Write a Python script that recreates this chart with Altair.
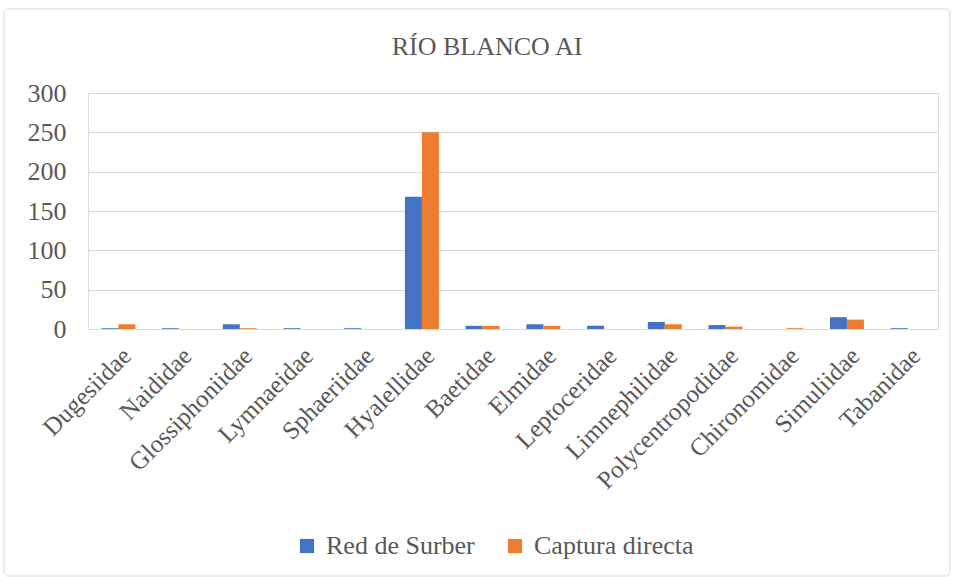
import altair as alt
import pandas as pd

families = ["Dugesiidae", "Naididae", "Glossiphoniidae", "Lymnaeidae", "Sphaeriidae",
            "Hyalellidae", "Baetidae", "Elmidae", "Leptoceridae", "Limnephilidae",
            "Polycentropodidae", "Chironomidae", "Simuliidae", "Tabanidae"]
red_surber = [1, 1, 6, 1, 1, 168, 4, 6, 4, 9, 5, 0, 15, 1]
captura = [6, 0, 1, 0, 0, 250, 4, 4, 0, 6, 3, 1, 12, 0]
series = ["Red de Surber", "Captura directa"]
title_text = "RÍO BLANCO AI"

rows = []
for f, a, b in zip(families, red_surber, captura):
    rows.append({"familia": f, "serie": series[0], "valor": a})
    rows.append({"familia": f, "serie": series[1], "valor": b})
df = pd.DataFrame(rows)

FONT = "Liberation Serif"
TXT = "#595959"
W, H = 850, 236

bars = alt.Chart(df).mark_bar().encode(
    x=alt.X("familia:N", sort=families, title=None,
            scale=alt.Scale(paddingInner=0.44, paddingOuter=0.22),
            axis=alt.Axis(labelAngle=-45, labelAlign="right", labelBaseline="top",
                          labelFontSize=25, labelFont=FONT, labelColor=TXT,
                          domainColor="#d9d9d9", ticks=False, labelPadding=14,
                          labelOverlap=False, labelLimit=400)),
    xOffset=alt.XOffset("serie:N", sort=series),
    y=alt.Y("valor:Q", title=None,
            scale=alt.Scale(domain=[0, 300]),
            axis=alt.Axis(values=[0, 50, 100, 150, 200, 250, 300], labelFontSize=26,
                          labelFont=FONT, labelColor=TXT, domain=False, ticks=False,
                          gridColor="#d9d9d9", labelPadding=22)),
    color=alt.Color("serie:N", sort=series,
                    scale=alt.Scale(domain=series, range=["#4472C4", "#ED7D31"]),
                    legend=alt.Legend(title=None, orient="none", direction="horizontal",
                                      legendX=206, legendY=440, symbolType="square",
                                      symbolSize=200, labelFontSize=26, labelFont=FONT,
                                      labelColor=TXT, columnPadding=27, labelOffset=6,
                                      symbolStrokeWidth=0, labelLimit=400)),
)

frame = alt.Chart(pd.DataFrame({"a": [0]})).mark_rect(
    fill=None, stroke="#d9d9d9", strokeWidth=1, cornerRadius=4
).encode(x=alt.value(-84), x2=alt.value(862), y=alt.value(-84), y2=alt.value(483))

title = alt.Chart(pd.DataFrame({"t": [title_text]})).mark_text(
    font=FONT, fontSize=26, color=TXT, align="center", baseline="middle"
).encode(text="t:N", x=alt.value(399), y=alt.value(-46))

chart = alt.layer(frame, bars, title).properties(
    width=W, height=H,
    autosize=alt.AutoSizeParams(type="none"),
    padding={"left": 88, "top": 93, "right": 16, "bottom": 248},
).configure_view(stroke=None).configure(background="white", font=FONT)

chart.save("out.html", embed_options={"renderer": "svg", "actions": False})
